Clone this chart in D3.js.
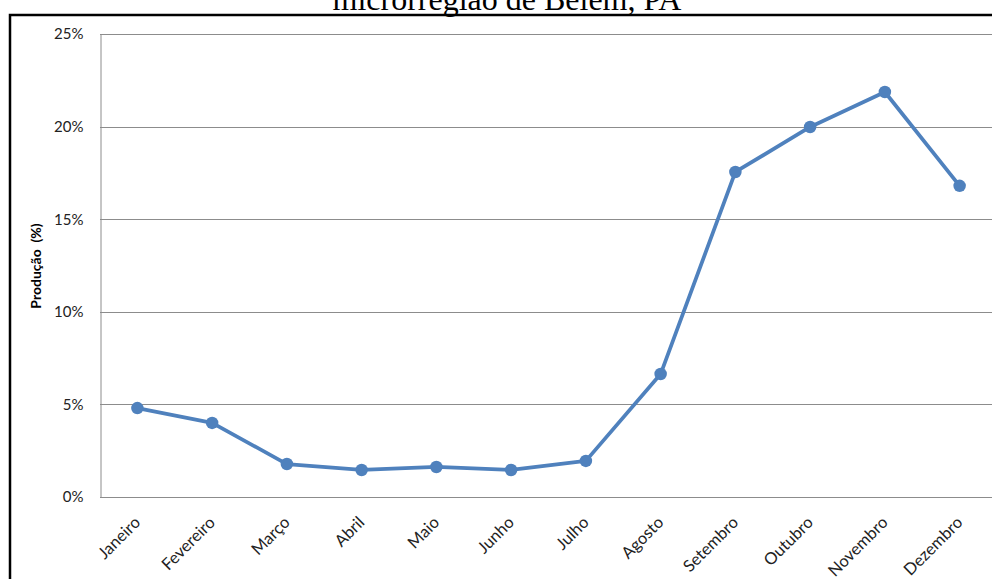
<!DOCTYPE html>
<html>
<head>
<meta charset="utf-8">
<script src="https://cdn.jsdelivr.net/npm/d3@7"></script>
<style>
  body { margin: 0; background: #fff; }
  svg { display: block; }
</style>
</head>
<body>
<svg id="chart"></svg>
<script>
// dados: produção mensal (%)
var months = ["Janeiro", "Fevereiro", "Março", "Abril", "Maio", "Junho",
              "Julho", "Agosto", "Setembro", "Outubro", "Novembro", "Dezembro"];
var producao = [4.8, 4.0, 1.78, 1.46, 1.62, 1.46, 1.95, 6.64, 17.55, 19.98, 21.87, 16.8];
var yTicks = [0, 5, 10, 15, 20, 25];
var titleText = "microrregião de Belém, PA";
var yLabel = "Produção  (%)";

var width = 992, height = 579;
var margin = {top: 34, right: -5, bottom: 82, left: 100};

var svg = d3.select("#chart")
  .attr("width", width)
  .attr("height", height);

// title (cut at top, like the reference)
svg.append("text")
  .attr("x", 507)
  .attr("y", 10)
  .attr("text-anchor", "middle")
  .style("font-family", "'Liberation Serif', 'Times New Roman', serif")
  .style("font-size", "32px")
  .text(titleText);

// outer frame
svg.append("rect")
  .attr("x", 10)
  .attr("y", 15)
  .attr("width", 1000)
  .attr("height", 600)
  .attr("fill", "none")
  .attr("stroke", "#000")
  .attr("stroke-width", 2.5);

var x = d3.scaleBand()
  .domain(months)
  .range([margin.left, width - margin.right]);

var y = d3.scaleLinear()
  .domain([0, 25])
  .range([height - margin.bottom, margin.top]);

// gridlines
svg.append("g")
  .selectAll("line")
  .data(yTicks)
  .enter().append("line")
  .attr("x1", margin.left)
  .attr("x2", width - margin.right)
  .attr("y1", function (d) { return Math.round(y(d)) + 0.5; })
  .attr("y2", function (d) { return Math.round(y(d)) + 0.5; })
  .attr("stroke", "#8c8c8c")
  .attr("stroke-width", 1);

// y axis
var yAxis = d3.axisLeft(y)
  .tickValues(yTicks)
  .tickSize(0)
  .tickPadding(17)
  .tickFormat(function (d) { return d + "%"; });

var gy = svg.append("g")
  .attr("transform", "translate(" + (margin.left + 0.5) + ",0)")
  .call(yAxis);
gy.select(".domain").attr("stroke", "#8c8c8c");
gy.selectAll("text")
  .style("font-family", "Lato, sans-serif")
  .style("font-size", "15px")
  .attr("fill", "#222");

// x axis
var xAxis = d3.axisBottom(x).tickSize(0);
var gx = svg.append("g")
  .attr("transform", "translate(0," + (Math.round(y(0)) + 0.5) + ")")
  .call(xAxis);
gx.select(".domain").remove();
gx.selectAll("text")
  .style("font-family", "Lato, sans-serif")
  .style("font-size", "16.5px")
  .attr("fill", "#222")
  .attr("text-anchor", "end")
  .attr("dy", null)
  .attr("y", null)
  .attr("transform", "translate(4,26) rotate(-45)");

// y label
svg.append("text")
  .attr("transform", "translate(41,266) rotate(-90)")
  .attr("text-anchor", "middle")
  .style("font-family", "Lato, sans-serif")
  .style("font-size", "14px")
  .style("font-weight", "bold")
  .style("white-space", "pre")
  .text(yLabel);

// line + markers
var line = d3.line()
  .x(function (d, i) { return x(months[i]) + x.bandwidth() / 2; })
  .y(function (d) { return y(d); });

svg.append("path")
  .datum(producao)
  .attr("d", line)
  .attr("fill", "none")
  .attr("stroke", "#4f81bd")
  .attr("stroke-width", 3.75)
  .attr("stroke-linejoin", "round");

svg.append("g")
  .selectAll("circle")
  .data(producao)
  .enter().append("circle")
  .attr("cx", function (d, i) { return x(months[i]) + x.bandwidth() / 2; })
  .attr("cy", function (d) { return y(d); })
  .attr("r", 6.25)
  .attr("fill", "#4f81bd");
</script>
</body>
</html>
